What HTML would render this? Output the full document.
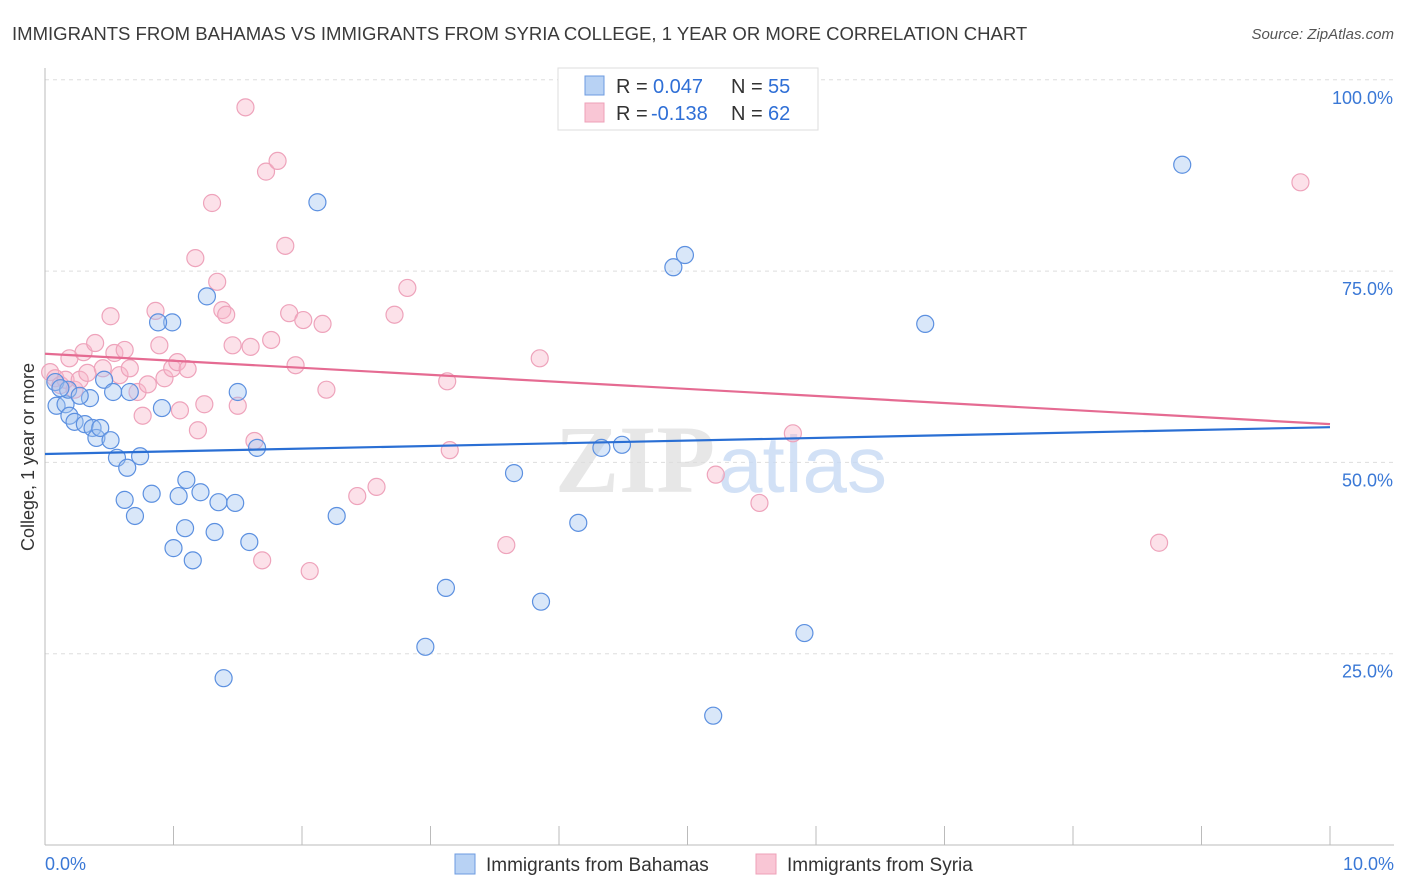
<!DOCTYPE html>
<html><head><meta charset="utf-8"><style>
body{margin:0;background:#fff;font-family:"Liberation Sans",sans-serif}
svg{display:block}
</style></head><body>
<svg width="1406" height="892" xmlns="http://www.w3.org/2000/svg">
<text x="12" y="40" font-size="18.55" fill="#3a3a3a">IMMIGRANTS FROM BAHAMAS VS IMMIGRANTS FROM SYRIA COLLEGE, 1 YEAR OR MORE CORRELATION CHART</text>
<text x="1394" y="39" font-size="15" fill="#555" text-anchor="end" font-style="italic">Source: ZipAtlas.com</text>
<g id="grid"></g>
<text x="555" y="492" font-size="96" fill="#ddd" font-family="Liberation Serif,serif" font-weight="bold" opacity="0.7">ZIP</text>
<text x="718" y="492" font-size="80" fill="#c8daf4" opacity="0.8">atlas</text>
<g id="pts"></g>
<g id="trend"></g>
<text transform="translate(34,457) rotate(-90)" font-size="18" fill="#333" text-anchor="middle">College, 1 year or more</text>
<g>
<rect x="558" y="68" width="260" height="62" fill="#fff" stroke="#ddd"/>
<rect x="585" y="76" width="19" height="19" fill="#b8d2f4" stroke="#6d9be0"/>
<rect x="585" y="103" width="19" height="19" fill="#f9c6d5" stroke="#eea0b8"/>
<text x="616" y="93" font-size="20" fill="#333">R =</text>
<text x="653" y="93" font-size="20" fill="#2f6fd6">0.047</text>
<text x="731" y="93" font-size="20" fill="#333">N =</text>
<text x="768" y="93" font-size="20" fill="#2f6fd6">55</text>
<text x="616" y="120" font-size="20" fill="#333">R =</text>
<text x="651" y="120" font-size="20" fill="#2f6fd6">-0.138</text>
<text x="731" y="120" font-size="20" fill="#333">N =</text>
<text x="768" y="120" font-size="20" fill="#2f6fd6">62</text>
</g>
<g>
<rect x="455" y="854" width="20" height="20" fill="#b8d2f4" stroke="#6d9be0"/>
<text x="486" y="871" font-size="19" fill="#333">Immigrants from Bahamas</text>
<rect x="756" y="854" width="20" height="20" fill="#f9c6d5" stroke="#eea0b8"/>
<text x="787" y="871" font-size="19" fill="#333">Immigrants from Syria</text>
</g>
</svg>
<script>
const xTicks=[0,1,2,3,4,5,6,7,8,9,10];
const yTicks=[25,50,75,100];
const yTickLabels=["25.0%","50.0%","75.0%","100.0%"];
const xTickLabels=["0.0%","10.0%"];
const bahamasX=[0.08,0.09,0.16,0.19,0.23,0.31,0.35,0.37,0.40,0.43,0.46,0.51,0.53,0.56,0.64,0.66,0.74,0.62,0.70,0.83,0.91,0.99,0.88,1.04,1.10,1.21,1.09,1.00,1.15,1.35,1.32,1.48,1.50,1.26,1.65,1.59,1.39,2.12,2.27,3.12,2.96,3.65,3.86,4.15,4.33,4.49,4.89,4.98,5.20,5.91,6.85,8.85,0.18,0.27,0.12];
const bahamasY=[60.5,57.4,57.6,56.1,55.3,55.0,58.4,54.5,53.2,54.5,60.8,52.9,59.2,50.6,49.3,59.2,50.8,45.1,43.0,45.9,57.1,68.3,68.3,45.6,47.7,46.1,41.4,38.8,37.2,44.8,40.9,44.7,59.2,71.7,51.9,39.6,21.8,84.0,43.0,33.6,25.9,48.6,31.8,42.1,51.9,52.3,75.5,77.1,16.9,27.7,68.1,88.9,59.5,58.7,59.7];
const syriaX=[0.04,0.08,0.12,0.16,0.19,0.23,0.27,0.30,0.33,0.39,0.45,0.51,0.54,0.58,0.62,0.66,0.72,0.76,0.80,0.86,0.89,0.93,0.99,1.03,1.05,1.11,1.19,1.24,1.30,1.17,1.34,1.38,1.41,1.46,1.50,1.56,1.60,1.63,1.69,1.72,1.81,1.87,1.76,1.90,1.95,2.01,2.06,2.16,2.19,2.43,2.58,2.72,2.82,3.13,3.15,3.59,3.85,5.22,5.56,5.82,8.67,9.77];
const syriaY=[61.8,61.0,60.1,60.8,63.6,59.5,60.8,64.4,61.7,65.6,62.3,69.1,64.3,61.4,64.7,62.3,59.2,56.1,60.2,69.8,65.3,61.0,62.3,63.1,56.8,62.2,54.2,57.6,83.9,76.7,73.6,69.9,69.3,65.3,57.4,96.4,65.1,52.8,37.2,88.0,89.4,78.3,66.0,69.5,62.7,68.6,35.8,68.1,59.5,45.6,46.8,69.3,72.8,60.6,51.6,39.2,63.6,48.4,44.7,53.8,39.5,86.6];
const bahamasTrend=[51.1,54.6];
const syriaTrend=[64.2,55.0];
const NS="http://www.w3.org/2000/svg";
const X=v=>45+v*128.5, Y=v=>845-v*7.652;
function mk(tag,attrs,parent){const e=document.createElementNS(NS,tag);for(const k in attrs)e.setAttribute(k,attrs[k]);parent.appendChild(e);return e;}
const grid=document.getElementById('grid');
yTicks.forEach((t,i)=>{
 const l=mk('line',{x1:45,x2:1394,y1:Y(t),y2:Y(t),stroke:'#ddd','stroke-dasharray':'4,4'},grid);
 
 
 const tx=mk('text',{x:1393,y:Y(t)+24,'font-size':18,fill:'#3a78d6','text-anchor':'end'},grid);
 tx.textContent=yTickLabels[i];
 
 
});
const la=mk('line',{x1:45,x2:45,y1:68,y2:845,stroke:'#bbb'},grid);


const ba=mk('line',{x1:45,x2:1394,y1:845,y2:845,stroke:'#bbb'},grid);


xTicks.forEach(t=>{
 const l=mk('line',{x1:X(t),x2:X(t),y1:826,y2:845,stroke:'#bbb'},grid);
 
 
});
[[0,'start',45],[10,'end',1394]].forEach((d,i)=>{
 const tx=mk('text',{x:d[2],y:870,'font-size':18,fill:'#3a78d6','text-anchor':d[1]},grid);
 tx.textContent=xTickLabels[i];
 
 
});
const pts=document.getElementById('pts');
syriaX.forEach((x,i)=>{
 const c=mk('circle',{cx:X(x),cy:Y(syriaY[i]),r:8.5,fill:'rgba(248,180,200,0.4)',stroke:'#eea3bb','stroke-width':1.2},pts);
 
 
});
bahamasX.forEach((x,i)=>{
 const c=mk('circle',{cx:X(x),cy:Y(bahamasY[i]),r:8.5,fill:'rgba(160,196,240,0.4)',stroke:'#5c90e0','stroke-width':1.2},pts);
 
 
});
const tr=document.getElementById('trend');
const t1=mk('line',{x1:X(0),x2:X(10),y1:Y(bahamasTrend[0]),y2:Y(bahamasTrend[1]),stroke:'#2a6fd4','stroke-width':2.2},tr);


const t2=mk('line',{x1:X(0),x2:X(10),y1:Y(syriaTrend[0]),y2:Y(syriaTrend[1]),stroke:'#e56b92','stroke-width':2.2},tr);


</script>
</body></html>
